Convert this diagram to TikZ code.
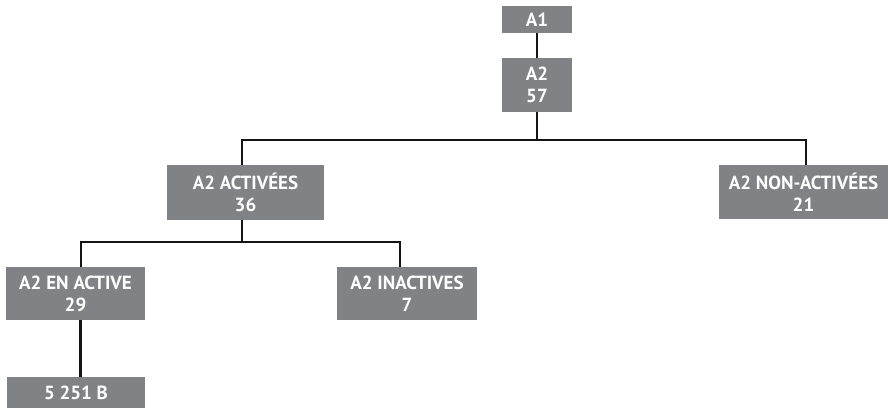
\documentclass[tikz,border=0pt]{standalone}
\usepackage{fontspec}
\setmainfont{PT Sans}
\definecolor{boxgray}{RGB}{128,130,134}
\definecolor{linecol}{RGB}{20,20,20}
\begin{document}
\begin{tikzpicture}[x=1pt,y=-1pt,
  box/.style={fill=boxgray, text=white, font=\fontsize{19}{22}\selectfont\bfseries,
    align=center, inner sep=0pt, draw=none},
  link/.style={draw=linecol, line width=2.5pt}]
\useasboundingbox[fill=white] (0,0) rectangle (889,408);
\node[box, minimum width=70pt, minimum height=27pt] (A1) at (537,19.5) {A1};
\node[box, minimum width=70pt, minimum height=54pt] (A2) at (537,85) {A2\\57};
\node[box, minimum width=157pt, minimum height=55pt] (ACT) at (245.5,192.5) {A2 ACTIVÉES\\36};
\node[box, minimum width=169pt, minimum height=54pt] (NON) at (803.5,192) {A2 NON-ACTIVÉES\\21};
\node[box, minimum width=139pt, minimum height=53pt] (EN) at (75.5,293.5) {A2 EN ACTIVE\\29};
\node[box, minimum width=140pt, minimum height=53pt] (INA) at (407,293.5) {A2 INACTIVES\\7};
\node[box, minimum width=138pt, minimum height=31pt] (B) at (76,392.5) {5 251 B};
\coordinate (j1) at (537,140);
\coordinate (j2) at (242,242);
\draw[link] (A1) -- (A2);
\draw[link] (A2.south) -- (j1);
\draw[link] ([xshift=-3.5pt]ACT.north) |- (j1) -| ([xshift=2.5pt]NON.north);
\draw[link] ([xshift=-3.5pt]ACT.south) -- (j2);
\draw[link] ([xshift=5.5pt]EN.north) |- (j2) -| ([xshift=-7pt]INA.north);
\draw[link] ([xshift=5pt]EN.south) -- ([xshift=4.5pt]B.north);
\end{tikzpicture}
\end{document}
